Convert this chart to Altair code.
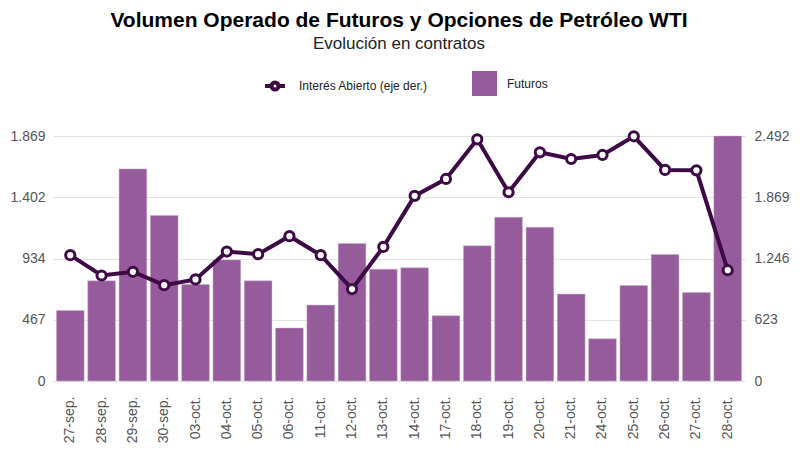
import altair as alt
import pandas as pd

fechas = ["27-sep.", "28-sep.", "29-sep.", "30-sep.", "03-oct.", "04-oct.", "05-oct.",
          "06-oct.", "11-oct.", "12-oct.", "13-oct.", "14-oct.", "17-oct.", "18-oct.",
          "19-oct.", "20-oct.", "21-oct.", "24-oct.", "25-oct.", "26-oct.", "27-oct.", "28-oct."]
futuros = [538, 764, 1618, 1262, 736, 924, 764, 404, 579, 1049, 853,
           863, 498, 1031, 1249, 1173, 663, 322, 729, 965, 675, 1869]
interes_abierto = [1280, 1073, 1111, 975, 1033, 1317, 1290, 1473, 1280, 935, 1364,
                   1883, 2055, 2458, 1920, 2326, 2258, 2299, 2489, 2147, 2143, 1127]
ticks_izq = [0, 467, 934, 1402, 1869]
ticks_der = [0, 623, 1246, 1869, 2492]

df = pd.DataFrame({
    "fecha": fechas,
    "futuros": futuros,
    "interes": interes_abierto,
    "s_bar": "Futuros",
    "s_line": "Interés Abierto (eje der.)",
})

PURPLE = "#955b9a"
DARK = "#3d0a45"
LBL = "replace(format(datum.value, ',.0f'), ',', '.')"

x = alt.X("fecha:N", sort=fechas, title=None,
          scale=alt.Scale(paddingInner=0.115, paddingOuter=0.11),
          axis=alt.Axis(labelAngle=270, labelPadding=15, ticks=False, domain=False,
                        labelFontSize=14, labelColor="#555555", labelFont="Liberation Sans"))

bars = alt.Chart(df).mark_bar(stroke="#c9b0cc", strokeWidth=0.5).encode(
    x=x,
    y=alt.Y("futuros:Q", title=None,
            scale=alt.Scale(domain=[0, 1869], nice=False, zero=True),
            axis=alt.Axis(values=ticks_izq, labelExpr=LBL, orient="left", grid=True,
                          gridColor="#e3e3e3", ticks=False, domain=False, labelPadding=8,
                          labelFontSize=14, labelColor="#555555", labelFont="Liberation Sans")),
    color=alt.Color("s_bar:N", scale=alt.Scale(domain=["Futuros"], range=[PURPLE]),
                    legend=alt.Legend(title=None, orient="none", legendX=419, legendY=-65,
                                      symbolType="square", symbolSize=625, labelOffset=10,
                                      labelFontSize=12, labelColor="#222222", padding=0,
                                      labelFont="Liberation Sans", symbolStrokeWidth=0)),
)

yr = alt.Y("interes:Q", title=None,
           scale=alt.Scale(domain=[0, 2492], nice=False, zero=True),
           axis=alt.Axis(values=ticks_der, labelExpr=LBL, orient="right", grid=False,
                         ticks=False, domain=False, labelPadding=9,
                         labelFontSize=14, labelColor="#555555", labelFont="Liberation Sans"))

line = alt.Chart(df).mark_line(strokeWidth=4).encode(
    x=x, y=yr,
    color=alt.Color("s_line:N",
                    scale=alt.Scale(domain=["Interés Abierto (eje der.)"], range=[DARK]),
                    legend=alt.Legend(title=None, orient="none", legendX=210, legendY=-62,
                                      symbolType="M-1,0H-0.35M0.35,0H1M-0.35,0A0.35,0.35,0,1,1,0.35,0A0.35,0.35,0,1,1,-0.35,0Z",
                                      symbolSize=400, symbolStrokeWidth=4,
                                      symbolFillColor="white", labelOffset=12,
                                      labelFontSize=12, labelColor="#222222", padding=0,
                                      labelFont="Liberation Sans")),
)

points = alt.Chart(df).mark_point(filled=True, fill="white", stroke=DARK, strokeWidth=3,
                                  size=85, opacity=1, shape="circle").encode(x=x, y=yr)

chart = alt.layer(bars, alt.layer(line, points)).resolve_scale(
    y="independent", color="independent"
).properties(
    width=692, height=245,
    title=alt.TitleParams(
        text="Volumen Operado de Futuros y Opciones de Petróleo WTI",
        subtitle="Evolución en contratos",
        anchor="middle", fontSize=21, fontWeight="bold", font="Liberation Sans",
        color="#000000", subtitleFontSize=17, subtitleFont="Liberation Sans",
        subtitleColor="#222222", subtitlePadding=5, offset=19,
    ),
    autosize=alt.AutoSizeParams(type="none"),
    padding={"left": 45, "top": 128, "right": 47, "bottom": 70},
).configure_view(stroke=None)

chart.save("out.html", embed_options={"renderer": "svg", "actions": False})
